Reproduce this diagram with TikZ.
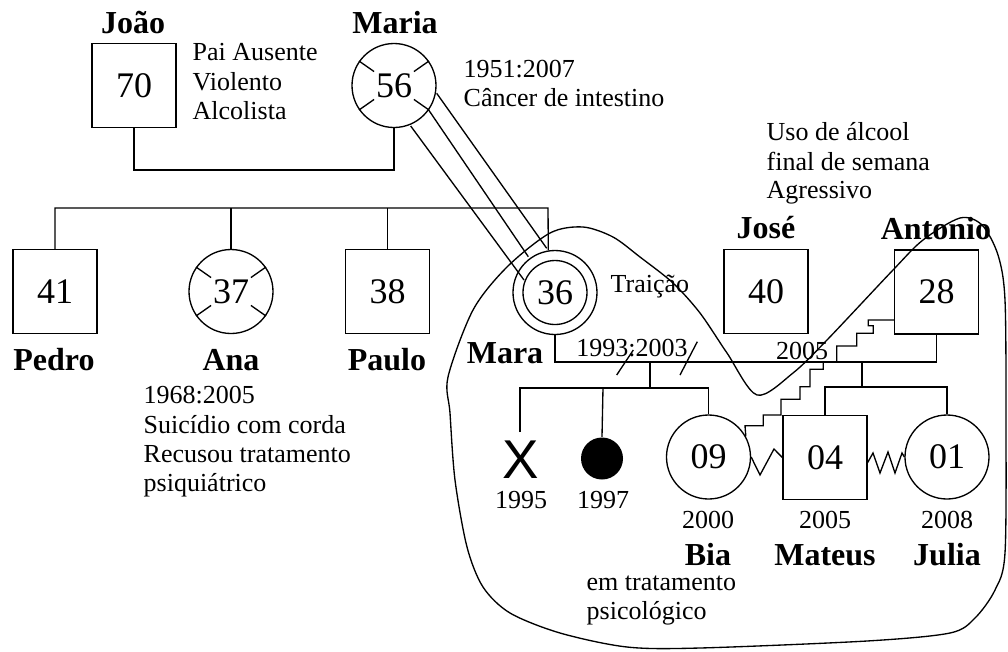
\documentclass[tikz,border=0pt]{standalone}
\usepackage{fontspec}
\setmainfont{Liberation Serif}
\newfontfamily\xsans{Liberation Sans}
\usetikzlibrary{calc}
\begin{document}
\begin{tikzpicture}[x=0.75pt,y=-0.75pt,line width=1pt,
  pbox/.style={draw,rectangle,minimum size=63pt,inner sep=0pt,font=\fontsize{27}{27}\selectfont},
  pcirc/.style={draw,circle,minimum size=63pt,inner sep=0pt,font=\fontsize{27}{27}\selectfont},
  nm/.style={inner sep=0pt,anchor=base,font=\fontsize{24}{26}\selectfont\bfseries},
  yr/.style={inner sep=0pt,anchor=base,font=\fontsize{19.5}{21.75}\selectfont},
  txt/.style={inner sep=0pt,anchor=base west,font=\fontsize{19.5}{21.75}\selectfont}]
\useasboundingbox (0,0) rectangle (1008,651);

% household boundary
\draw[line width=1pt] plot[smooth cycle,tension=0.5] coordinates {
 (448,377) (473,310) (507,267) (550,233) (583,227) (613,237) (640,257) (673,283)
 (700,313) (727,353) (757,395) (793,373) (827,340) (893,270) (923,240) (960,218)
 (982,225) (998,255) (1005,300) (1006,420) (1005,553) (995,590) (975,618) (950,633)
 (867,641) (700,648) (627,647) (560,633) (510,613) (483,587) (467,547) (455,480) (450,413)};

% people
\node[pbox] (joao) at (134,85.5) {70};
\node[pcirc] (maria) at (394,85.5) {56};
\node[pbox] (pedro) at (55,291.5) {41};
\node[pcirc] (ana) at (231,291.5) {37};
\node[pbox] (paulo) at (387.5,291.5) {38};
\node[pcirc] (mara) at (555,292.5) {};
\node[draw,circle,minimum size=48pt,inner sep=0pt,font=\fontsize{27}{27}\selectfont] (marain) at (mara.center) {36};
\node[pbox] (jose) at (766,291.5) {40};
\node[pbox] (antonio) at (936.5,292) {28};
\node[inner sep=0pt,font=\xsans\fontsize{41}{41}\selectfont] (xk) at (521,460) {X};
\node[circle,fill=black,minimum size=31.5pt,inner sep=0pt] (dead) at (602,458.5) {};
\node[pcirc] (bia) at (708.5,457) {09};
\node[pbox] (mateus) at (825,457.5) {04};
\node[pcirc] (julia) at (947,457) {01};

% death ticks
\foreach \p in {maria,ana}{
  \foreach \a in {35,145,215,325}{
    \draw (\p.\a) -- ($(\p.center)!0.57!(\p.\a)$);
  }
}

% names
\node[nm] (njoao) at (133,33) {João};
\node[nm] (nmaria) at (395,33) {Maria};
\node[nm] (npedro) at (54,370) {Pedro};
\node[nm] (nana) at (231,370) {Ana};
\node[nm] (npaulo) at (387,370) {Paulo};
\node[nm] (nmara) at (505,363) {Mara};
\node[nm] (njose) at (766,238) {José};
\node[nm] (nantonio) at (936,239) {Antonio};
\node[nm] (nbia) at (708,565) {Bia};
\node[nm] (nmateus) at (825,565) {Mateus};
\node[nm] (njulia) at (947,565) {Julia};

% years
\node[yr] (y95) at (521,508) {1995};
\node[yr] (y97) at (603,508) {1997};
\node[yr] (y00) at (708,528) {2000};
\node[yr] (y05) at (825,528) {2005};
\node[yr] (y08) at (947,528) {2008};
\node[yr] (ydiv) at (632,356) {1993:2003};
\node[yr] (ymar) at (802,359) {2005};

% notes
\node[txt] (t1) at (192,60) {Pai Ausente};
\node[txt] (t2) at (192,90) {Violento};
\node[txt] (t3) at (192,119) {Alcolista};
\node[txt] (t4) at (463,77) {1951:2007};
\node[txt] (t5) at (463,106) {Câncer de intestino};
\node[txt] (t6) at (766,140) {Uso de álcool};
\node[txt] (t7) at (766,170) {final de semana};
\node[txt] (t8) at (766,198) {Agressivo};
\node[txt] (t9) at (610,292) {Traição};
\node[txt] (t10) at (143,403) {1968:2005};
\node[txt] (t11) at (143,433) {Suicídio com corda};
\node[txt] (t12) at (143,462) {Recusou tratamento};
\node[txt] (t13) at (143,491) {psiquiátrico};
\node[txt] (t14) at (586,590) {em tratamento};
\node[txt] (t15) at (586,619) {psicológico};

% marriage João - Maria
\draw (joao.south) -- (joao.south |- 0,170) -| (maria.south);

% siblings
\coordinate (sibR) at (548,208);
\draw (pedro.north) |- (sibR) -- (mara.99.6);
\draw (ana.north) -- (ana.north |- sibR);
\draw (paulo.north) -- (paulo.north |- sibR);

% fused relation Maria - Mara
\draw (410.7,126) -- (524,280);
\draw (428.4,109.6) -- (528.3,256.7);
\draw (436.7,93.3) -- (546.7,248.3);

% marriage Mara - Antonio
\coordinate (mline) at (555,362);
\draw (mara.south) -- (mline) -| (antonio.south);
\draw (616.7,375) -- (633.3,350);
\draw (680,375) -- (697.3,341.7);

% children of first union
\coordinate (kA) at (650,388);
\draw (650,362) -- (kA);
\draw (520,432) |- (kA) -| (bia.north);
\draw (603,388) -- (dead.north);

% children of second union
\coordinate (kB) at (862,387);
\draw (862,362) -- (kB);
\draw (mateus.north) |- (kB) -| (julia.north);

% staircase Antonio -> Bia
\draw (antonio.west |- 0,320) -- (868.3,320) -- (868.3,325.7) -- (873.3,325.7) -- (873.3,333.3)
  -- (856.7,333.3) -- (856.7,346) -- (836.7,346) -- (836.7,362) -- (823.3,362) -- (823.3,369.3)
  -- (810,369.3) -- (810,386.7) -- (800,386.7) -- (800,399.3) -- (781,399.3) -- (781,415)
  -- (763.3,415) -- (763.3,425.7) -- (745,425.7) -- (bia.29);

% conflict zigzags
\draw (bia.east) -- (760,475) -- (774,449) -- (mateus.west);
\draw ($(mateus.east)+(0,5)$) -- (873,453) -- (880,473) -- (888,452) -- (895,473) -- (902,453) -- (julia.west);
\end{tikzpicture}
\end{document}
